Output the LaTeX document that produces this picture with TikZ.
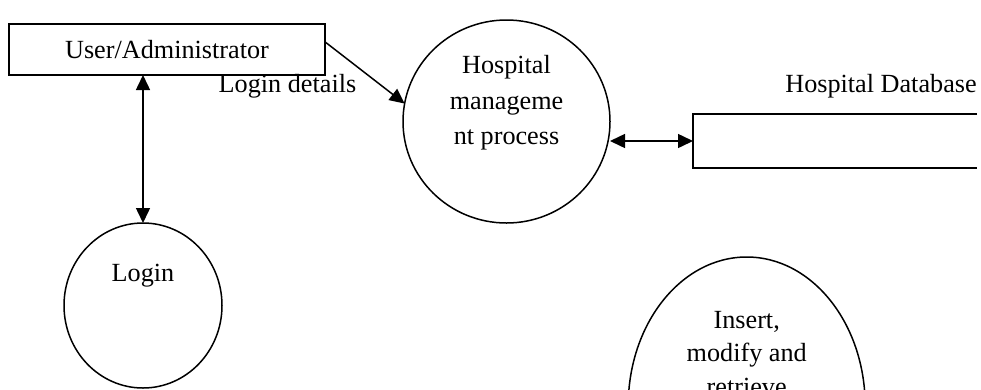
\documentclass[tikz,border=0pt]{standalone}
\usepackage{fontspec}
\setmainfont{Liberation Serif}
\usetikzlibrary{arrows.meta,shapes.geometric,calc}
\begin{document}
\begin{tikzpicture}[x=1pt,y=-1pt,
  every node/.style={font=\fontsize{26.2}{35.8}\selectfont, inner sep=0pt, outer sep=0pt},
  line/.style={line width=1.5pt},
  flow/.style={line, -{Triangle[length=15pt,width=14pt]}},
  bflow/.style={line, {Triangle[length=15pt,width=14pt]}-{Triangle[length=15pt,width=14pt]}},
  proc/.style={ellipse, draw, line width=1.5pt},
  lbl/.style={anchor=base, align=center}]
\useasboundingbox (0,0) rectangle (981,389);
\clip (0,0) rectangle (981,389);
\fill[white] (0,0) rectangle (981,389);
% processes
\node[proc, minimum width=207pt, minimum height=203pt] (hm) at (506.5,121.5) {};
\node[proc, minimum width=158pt, minimum height=165pt] (lg) at (143,305.5) {};
\node[proc, minimum width=237pt, minimum height=298pt] (ins) at (746.7,406) {};
% entity
\node[draw, line width=1.5pt, minimum width=316pt, minimum height=51pt, text height=18pt, text depth=0pt] (ua) at (167,49.5) {User/Administrator};
% data store (open on the right)
\node[minimum width=284pt, minimum height=54pt] (db) at (835,141) {};
\draw[line] (db.north east) -- (db.north west) -- (db.south west) -- (db.south east);
% texts (base anchor = baseline of the last line)
\node[lbl] (hmt) at (506.5,144.9) {Hospital\\manageme\\nt process};
\node[lbl, font=\fontsize{26.2}{33.4}\selectfont] (inst) at (746.7,395.1) {Insert,\\modify and\\retrieve};
\node[lbl] (lgt) at (143,281) {Login};
\node[lbl] (ld) at (287.5,92) {Login details};
\node[lbl] (hdb) at (881,92) {Hospital Database};
% connectors
\draw[flow] ($(ua.north east)!0.35!(ua.south east)$) -- (hm.170);
\draw[bflow] (ua.south -| lg.north) -- (lg.north);
\draw[bflow] (hm.east |- db.west) -- (db.west);
\end{tikzpicture}
\end{document}
